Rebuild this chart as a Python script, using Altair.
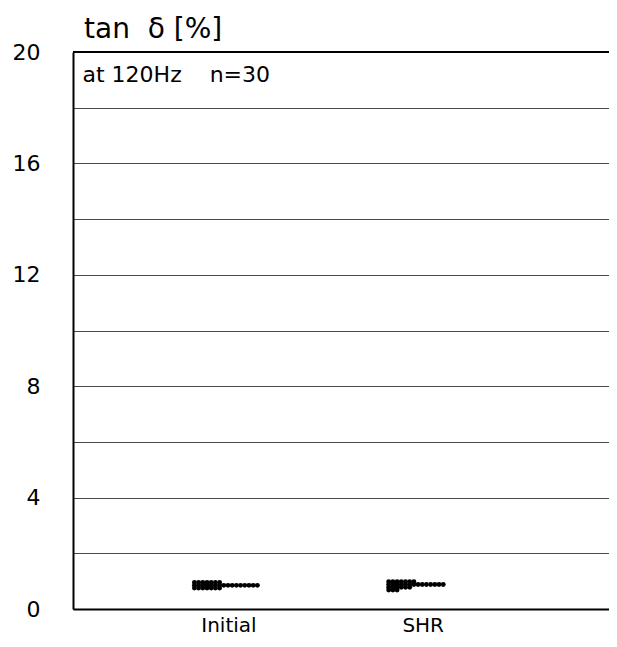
import altair as alt
import pandas as pd

categories = ["Initial", "SHR"]
initial_values = [0.95, 0.95, 0.95, 0.95, 0.95, 0.95, 0.95,
                  0.85, 0.85, 0.85, 0.85, 0.85, 0.85, 0.85, 0.85,
                  0.85, 0.85, 0.85, 0.85, 0.85, 0.85, 0.85, 0.85,
                  0.75, 0.75, 0.75, 0.75, 0.75, 0.75, 0.75]
shr_values = [0.98, 0.98, 0.98, 0.98, 0.98, 0.98, 0.98,
              0.88, 0.88, 0.88, 0.88, 0.88, 0.88, 0.88,
              0.88, 0.88, 0.88, 0.88, 0.88, 0.88, 0.88,
              0.78, 0.78, 0.78, 0.78, 0.78, 0.78,
              0.68, 0.68, 0.68]
y_ticks = [0, 2, 4, 6, 8, 10, 12, 14, 16, 18, 20]
title_text = "tan\u00a0\u00a0δ [%]"
note_text = "at 120Hz\u00a0\u00a0\u00a0\u00a0n=30"

rows = []
for i, (cat, vals) in enumerate(zip(categories, [initial_values, shr_values])):
    for v in vals:
        rows.append({"group": cat, "pos": i + 1, "tand": v})
df = pd.DataFrame(rows)

FONT = "DejaVu Sans"
label_expr = "[" + ",".join("'%s'" % c for c in categories) + "][datum.value - 1]"

x_scale = alt.Scale(domain=[0.2, 2.959], nice=False, zero=False)
y_scale = alt.Scale(domain=[0, 20], nice=False)

dots = alt.Chart(df).transform_window(
    rank="row_number()", groupby=["group", "tand"]
).transform_calculate(
    xpos="datum.pos - 0.175 + (datum.rank - 1) * 0.0216"
).mark_circle(size=24, color="black", opacity=1).encode(
    x=alt.X("xpos:Q", scale=x_scale,
            axis=alt.Axis(values=[1, 2], labelExpr=label_expr, title=None,
                          grid=False, ticks=False, labelPadding=6,
                          labelFontSize=20, labelFont=FONT, labelColor="black",
                          domainColor="black", domainWidth=2)),
    y=alt.Y("tand:Q", scale=y_scale,
            axis=alt.Axis(values=y_ticks, title=None, ticks=False,
                          labelExpr="datum.value % 4 == 0 ? datum.label : ''",
                          labelPadding=33, labelFontSize=22, labelFont=FONT,
                          labelColor="black", labelBaseline="middle",
                          domainColor="black", domainWidth=2,
                          grid=True, gridColor="#4a4a4a", gridOpacity=1,
                          gridWidth=1.2)),
)

top_border = alt.Chart(pd.DataFrame({"top": [20]})).mark_rule(
    color="black", strokeWidth=2
).encode(y=alt.Y("top:Q", scale=y_scale))

note = alt.Chart(pd.DataFrame({"t": [note_text]})).mark_text(
    align="left", baseline="alphabetic", fontSize=22, font=FONT, color="black"
).encode(x=alt.value(9.5), y=alt.value(29.7), text="t:N")

title = alt.Chart(pd.DataFrame({"t": [title_text]})).mark_text(
    align="left", baseline="alphabetic", fontSize=28, font=FONT, color="black"
).encode(x=alt.value(11), y=alt.value(-14), text="t:N")

chart = alt.layer(dots, top_border, note, title).properties(
    width=536, height=557,
    autosize=alt.AutoSizeParams(type="none"),
    padding={"left": 65, "top": 44, "right": 0, "bottom": 30},
).configure_view(fill="#FFFFCC", stroke="transparent").configure(background="white")

chart.save("out.html", embed_options={"renderer": "svg", "actions": False})
